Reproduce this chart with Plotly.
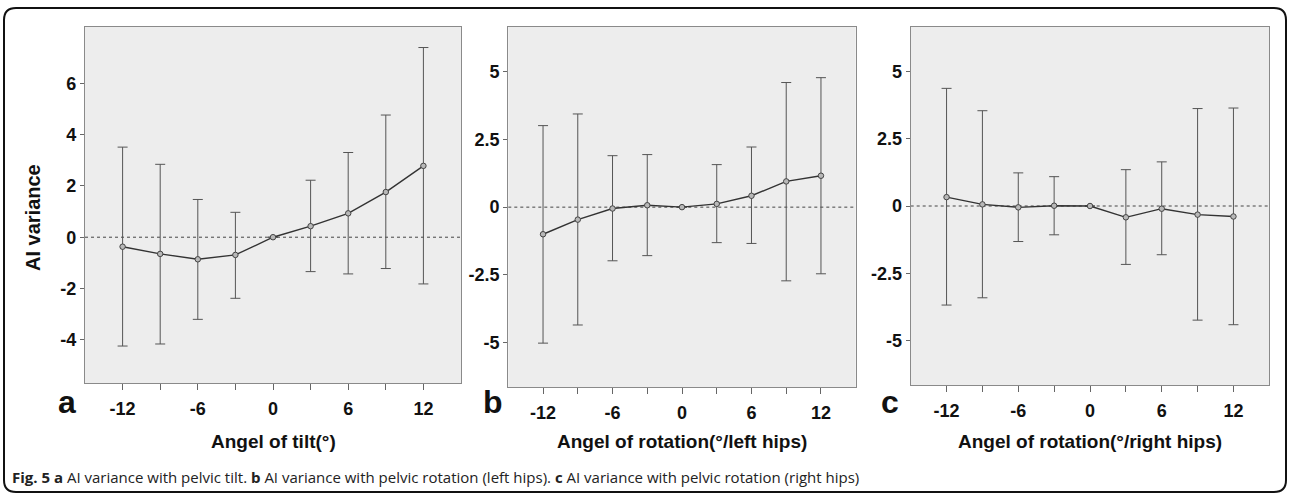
import plotly.graph_objects as go

angles = [-12, -9, -6, -3, 0, 3, 6, 9, 12]

tilt_mean = [-0.37, -0.65, -0.86, -0.69, 0.0, 0.43, 0.93, 1.76, 2.78]
tilt_upper = [3.51, 2.84, 1.47, 0.97, 0.0, 2.22, 3.30, 4.76, 7.39]
tilt_lower = [-4.24, -4.16, -3.20, -2.38, 0.0, -1.34, -1.43, -1.22, -1.82]

left_mean = [-1.00, -0.46, -0.05, 0.07, 0.0, 0.12, 0.42, 0.95, 1.16]
left_upper = [3.01, 3.44, 1.90, 1.94, 0.0, 1.57, 2.22, 4.60, 4.78]
left_lower = [-5.02, -4.35, -1.98, -1.79, 0.0, -1.31, -1.34, -2.72, -2.46]

right_mean = [0.33, 0.06, -0.05, 0.01, 0.0, -0.42, -0.10, -0.32, -0.39]
right_upper = [4.37, 3.54, 1.23, 1.09, 0.0, 1.35, 1.64, 3.62, 3.64]
right_lower = [-3.68, -3.41, -1.32, -1.07, 0.0, -2.17, -1.81, -4.24, -4.41]

x_tickvals = [-12, -9, -6, -3, 0, 3, 6, 9, 12]
x_ticktext = ["-12", "", "-6", "", "0", "", "6", "", "12"]
ya_ticks = [-4, -2, 0, 2, 4, 6]
ybc_ticks = [-5, -2.5, 0, 2.5, 5]
ybc_text = ["-5", "-2.5", "0", "2.5", "5"]

x_titles = ["Angel of tilt(°)", "Angel of rotation(°/left hips)", "Angel of rotation(°/right hips)"]
panel_letters = ["a", "b", "c"]
y_title = "AI variance"
caption = ("<b>Fig. 5</b> <b>a</b> AI variance with pelvic tilt. <b>b</b> AI variance with pelvic rotation "
           "(left hips). <b>c</b> AI variance with pelvic rotation (right hips)")

W, H = 1290, 495
def px(x): return x / W
def py(y): return 1 - y / H

fig = go.Figure()

series = [(tilt_mean, tilt_upper, tilt_lower), (left_mean, left_upper, left_lower),
          (right_mean, right_upper, right_lower)]
for i, (m, u, l) in enumerate(series):
    sfx = "" if i == 0 else str(i + 1)
    fig.add_trace(go.Scatter(
        x=angles, y=m, mode="lines+markers",
        xaxis="x" + sfx, yaxis="y" + sfx,
        line=dict(color="#333333", width=1.4),
        marker=dict(size=5.5, color="#b8b8b8", line=dict(color="#444444", width=1)),
        error_y=dict(type="data", symmetric=False,
                     array=[a - b for a, b in zip(u, m)],
                     arrayminus=[b - c for b, c in zip(m, l)],
                     color="#555555", thickness=1, width=5),
        showlegend=False, hoverinfo="skip"))

FONT = "Liberation Sans, Arial, sans-serif"
font_tick = dict(family=FONT, size=18, color="#111111", weight="bold")
xdoms = [(85, 461), (508.3, 855.7), (910.7, 1269.3)]
ybottoms = [383, 387.3, 385]
yranges = [[-5.68, 8.19], [-6.65, 6.65], [-6.65, 6.65]]

layout = dict(width=W, height=H, margin=dict(l=0, r=0, t=0, b=0),
              paper_bgcolor="white", plot_bgcolor="#ededed")
for i in range(3):
    sfx = "" if i == 0 else str(i + 1)
    layout["xaxis" + sfx] = dict(
        domain=[px(xdoms[i][0]), px(xdoms[i][1])], range=[-15, 15],
        anchor="y" + sfx, tickvals=x_tickvals, ticktext=x_ticktext,
        ticks="outside", ticklen=6, tickcolor="#666666", tickwidth=1,
        showline=True, mirror=True, linecolor="#8a8a8a", linewidth=1.2,
        showgrid=False, zeroline=False, tickfont=font_tick, ticklabelstandoff=3)
    layout["yaxis" + sfx] = dict(
        domain=[py(ybottoms[i]), py(27)], range=yranges[i],
        anchor="x" + sfx,
        tickvals=ya_ticks if i == 0 else ybc_ticks,
        ticktext=[str(v) for v in ya_ticks] if i == 0 else ybc_text,
        ticks="outside", ticklen=4, tickcolor="#666666", tickwidth=1,
        showline=True, mirror=True, linecolor="#8a8a8a", linewidth=1.2,
        showgrid=False, zeroline=False, tickfont=font_tick)
fig.update_layout(**layout)

shapes = []
for i in range(3):
    sfx = "" if i == 0 else str(i + 1)
    shapes.append(dict(type="line", xref="x" + sfx + " domain", yref="y" + sfx,
                       x0=0, x1=1, y0=0, y1=0, layer="below",
                       line=dict(color="#444444", width=1, dash="dot")))

# outer rounded frame
L, T, R, B, r = 4, 8, 1286, 492, 12
path = (f"M {px(L+r)},{py(T)} L {px(R-r)},{py(T)} Q {px(R)},{py(T)} {px(R)},{py(T+r)} "
        f"L {px(R)},{py(B-r)} Q {px(R)},{py(B)} {px(R-r)},{py(B)} "
        f"L {px(L+r)},{py(B)} Q {px(L)},{py(B)} {px(L)},{py(B-r)} "
        f"L {px(L)},{py(T+r)} Q {px(L)},{py(T)} {px(L+r)},{py(T)} Z")
shapes.append(dict(type="path", xref="paper", yref="paper", path=path,
                   line=dict(color="#111111", width=2)))
fig.update_layout(shapes=shapes)

ann = []
title_x = [273, 682, 1090]
letter_x = [67, 493, 890]
for i in range(3):
    ann.append(dict(text="<b>" + x_titles[i] + "</b>", x=px(title_x[i]), y=py(441),
                    xref="paper", yref="paper", showarrow=False, xanchor="center", yanchor="middle",
                    font=dict(family=FONT, size=19, color="#111111")))
    ann.append(dict(text="<b>" + panel_letters[i] + "</b>", x=px(letter_x[i]), y=py(402),
                    xref="paper", yref="paper", showarrow=False, xanchor="center", yanchor="middle",
                    font=dict(family=FONT, size=32, color="#111111")))
ann.append(dict(text="<b>" + y_title + "</b>", x=px(33), y=py(218), textangle=-90,
                xref="paper", yref="paper", showarrow=False, xanchor="center", yanchor="middle",
                font=dict(family=FONT, size=20, color="#111111")))
ann.append(dict(text=caption, x=px(10), y=py(477), xref="paper", yref="paper",
                showarrow=False, xanchor="left", yanchor="middle",
                font=dict(family="Open Sans, sans-serif", size=15, color="#222222")))
fig.update_layout(annotations=ann)

fig.write_html("out.html", config={"displayModeBar": False},
               post_script="document.body.style.margin='0';")
